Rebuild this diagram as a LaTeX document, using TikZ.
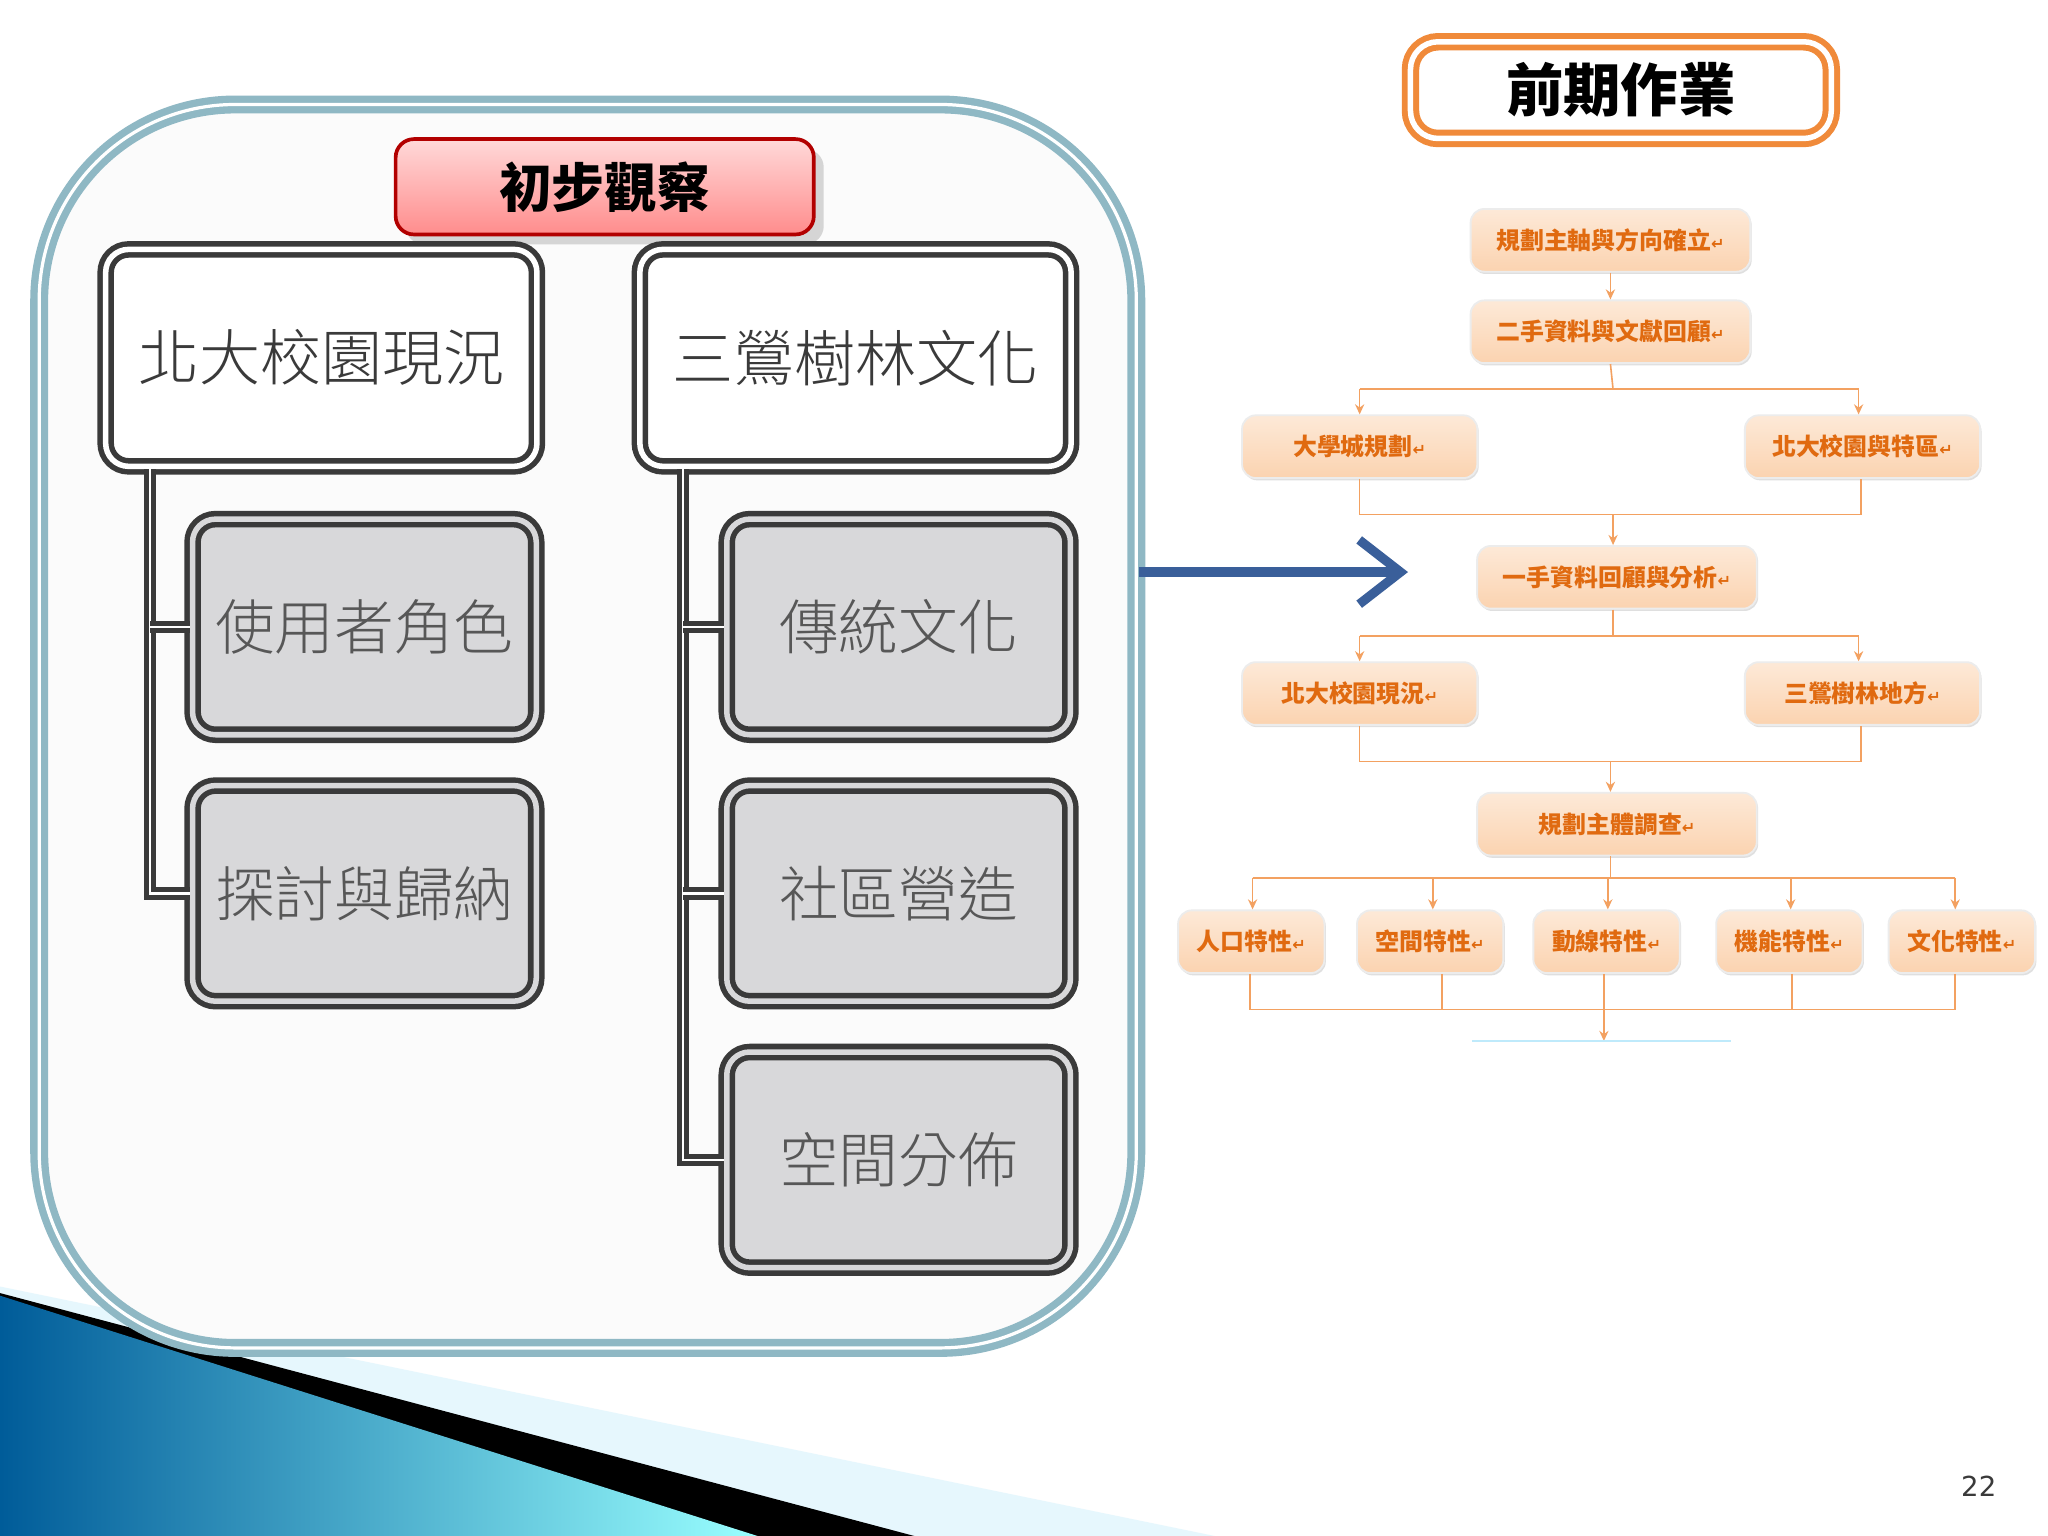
\documentclass[tikz,border=0pt]{standalone}
\usepackage{fontspec}
\newfontfamily\cjk{Noto Sans CJK TC}
\newfontfamily\cjkl{Noto Sans CJK TC Light}
\newfontfamily\dv{DejaVu Sans}
\usetikzlibrary{arrows.meta,shadows}
\definecolor{frameblue}{HTML}{8FB8C4}
\definecolor{dk}{HTML}{3A3A3A}
\definecolor{gbox}{HTML}{D8D8DA}
\definecolor{org}{HTML}{F08A3A}
\definecolor{orgtxt}{HTML}{E06A10}
\definecolor{peach}{HTML}{FBD3B0}
\definecolor{arrowblue}{HTML}{3A5F9A}
\tikzset{
 topbox/.style={draw=dk,line width=1.2pt,double=white,double distance=1.2pt,fill=white,rounded corners=5pt,font=\cjkl\fontsize{13.3}{14}\selectfont,text=dk,minimum width=3.30cm,minimum height=1.66cm},
 graybox/.style={draw=dk,line width=1.2pt,double=gbox,double distance=1.2pt,fill=gbox,rounded corners=5pt,font=\cjkl\fontsize{13}{14}\selectfont,text=dk!85,minimum width=2.63cm,minimum height=1.65cm},
 fc/.style={draw=white!85!gray,top color=peach!50,bottom color=peach,rounded corners=3pt,font=\cjk\bfseries\fontsize{5.2}{5}\selectfont,text=orgtxt,drop shadow={opacity=0.25,shadow xshift=0.3pt,shadow yshift=-0.5pt},minimum height=0.48cm,inner sep=1pt},
 fl/.style={draw=org!80,line width=0.35pt},
 fa/.style={fl,-{Stealth[length=2.2pt,width=2pt]}},
 tree/.style={draw=dk,line width=1.1pt,double=white,double distance=0.5pt}
}
\newcommand{\rt}{{\dv\fontsize{3.5}{4}\selectfont ↵}}
\begin{document}
\begin{tikzpicture}[x=0.01cm,y=-0.01cm]
\useasboundingbox (0,0) rectangle (1568,1176);
\fill[white] (0,0) rectangle (1568,1176);
% bottom decoration
\fill[cyan!10!white] (0,985) -- (930,1176) -- (0,1176) -- cycle;
\fill[black] (0,990) -- (700,1176) -- (0,1176) -- cycle;
\shade[left color=cyan!60!blue!60!black, right color=cyan!40!white] (0,992) -- (580,1176) -- (0,1176) -- cycle;
% big frame
\draw[frameblue,line width=1.6pt,double=white,double distance=0.7pt,fill=gray!3,rounded corners=1.5cm] (30,80) rectangle (870,1032);
\node[draw=red!70!black,line width=0.8pt,top color=red!15,bottom color=red!45,rounded corners=4pt,minimum width=3.2cm,minimum height=0.73cm,font=\cjk\bfseries\fontsize{11.5}{12}\selectfont,drop shadow={opacity=0.3}] (t1) at (463,143) {初步觀察};
\node[topbox] (a) at (246,274) {北大校園現況};
\node[topbox] (b) at (655,274) {三鶯樹林文化};
\node[graybox] (a1) at (279,480) {使用者角色};
\node[graybox] (a2) at (279,684) {探討與歸納};
\node[graybox] (b1) at (688,480) {傳統文化};
\node[graybox] (b2) at (688,684) {社區營造};
\node[graybox] (b3) at (688,888) {空間分佈};
\coordinate (ta) at (115,0); \coordinate (tb) at (523,0);
\draw[tree] (ta |- a.south) -- (ta |- a2.west) -- (a2.west);
\draw[tree] (ta |- a1.west) -- (a1.west);
\draw[tree] (tb |- b.south) -- (tb |- b3.west) -- (b3.west);
\draw[tree] (tb |- b1.west) -- (b1.west);
\draw[tree] (tb |- b2.west) -- (b2.west);
% arrow
\coordinate (ar1) at (872,438); \coordinate (ar2) at (1078,438);
\draw[arrowblue,line width=2.2pt,-{Straight Barb[length=9pt,width=14pt,line width=2pt]}] (ar1) -- (ar2);
% right
\node[draw=org,line width=1.3pt,double=white,double distance=1.2pt,fill=white,rounded corners=6pt,minimum width=3.22cm,minimum height=0.74cm,font=\cjk\bfseries\fontsize{12.5}{13}\selectfont] (pre) at (1241,69) {前期作業};
\node[fc,minimum width=2.14cm] (n1) at (1233,184) {規劃主軸與方向確立\rt};
\node[fc,minimum width=2.14cm] (n2) at (1233,254) {二手資料與文獻回顧\rt};
\node[fc,minimum width=1.80cm] (n3) at (1041,342) {大學城規劃\rt};
\node[fc,minimum width=1.80cm] (n4) at (1426,342) {北大校園與特區\rt};
\node[fc,minimum width=2.14cm] (n5) at (1238,442) {一手資料回顧與分析\rt};
\node[fc,minimum width=1.80cm] (n6) at (1041,531) {北大校園現況\rt};
\node[fc,minimum width=1.80cm] (n7) at (1426,531) {三鶯樹林地方\rt};
\node[fc,minimum width=2.14cm] (n8) at (1238,631) {規劃主體調查\rt};
\foreach \n/\x/\t in {p1/958/人口特性,p2/1095/空間特性,p3/1230/動線特性,p4/1370/機能特性,p5/1502/文化特性}
  \node[fc,minimum width=1.12cm] (\n) at (\x,721) {\t\rt};
\draw[fa] (n1.south) -- (n2.north);
\draw[fl] (n2.south) -- (1235,298);
\draw[fl] (1041,298) -- (1423,298);
\draw[fa] (1041,298) -- (n3.north); \draw[fa] (1423,298) -- (n4.north -| 1423,0);
\draw[fl] (n3.south) -- (1041,394) -- (1425,394) -- (n4.south -| 1425,0);
\draw[fa] (1235,394) -- (n5.north -| 1235,0);
\draw[fl] (n5.south -| 1235,0) -- (1235,487);
\draw[fl] (1041,487) -- (1423,487);
\draw[fa] (1041,487) -- (n6.north); \draw[fa] (1423,487) -- (n7.north -| 1423,0);
\draw[fl] (n6.south) -- (1041,583) -- (1425,583) -- (n7.south -| 1425,0);
\draw[fa] (1233,583) -- (n8.north -| 1233,0);
\draw[fl] (n8.south -| 1233,0) -- (1233,672);
\draw[fl] (959,672) -- (1497,672);
\foreach \x/\n in {959/p1,1097/p2,1231/p3,1371/p4,1497/p5} \draw[fa] (\x,672) -- (\n.north -| \x,0);
\draw[fl] (957,773) -- (1497,773);
\foreach \x/\n in {957/p1,1104/p2,1228/p3,1372/p4,1497/p5} \draw[fl] (\n.south -| \x,0) -- (\x,773);
\coordinate (endp) at (1228,797);
\draw[fa] (1228,773) -- (endp);
\draw[cyan!25,line width=0.4pt] (1127,797) -- (1325,797);
\node[font=\dv\fontsize{6}{7}\selectfont,text=dk] (pg) at (1515,1138) {22};
\end{tikzpicture}
\end{document}
